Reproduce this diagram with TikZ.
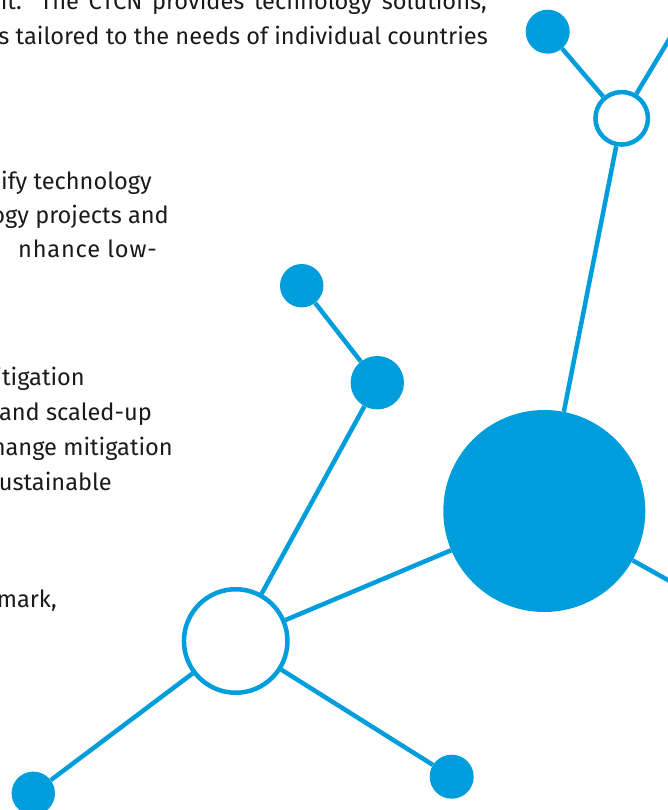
\documentclass[tikz,border=0pt]{standalone}
\usepackage{fontspec}
\setmainfont{Fira Sans}
\usetikzlibrary{backgrounds}
\definecolor{ctcn}{HTML}{009DDC}
\definecolor{txt}{HTML}{1A1A1A}
\begin{document}
\begin{tikzpicture}[x=1pt,y=-1pt,
  dotnode/.style={circle,fill=ctcn,draw=none,inner sep=0pt},
  ringnode/.style={circle,fill=white,draw=ctcn,line width=4.5pt,inner sep=0pt},
  link/.style={draw=ctcn,line width=4.5pt},
  txtline/.style={anchor=base east,inner sep=0pt,text=txt,font=\fontsize{23.6}{30}\selectfont}]
\useasboundingbox (0,0) rectangle (667,810);
\clip (0,0) rectangle (667,810);
% text
\node[txtline] (t1) at (487,10) {\makebox[486pt][s]{it. The CTCN provides technology solutions,}};
\node[txtline] (t2) at (488,45) {s tailored to the needs of individual countries};
\node[txtline] (t3) at (152,190) {ify technology};
\node[txtline] (t4) at (169,223) {ogy projects and};
\node[txtline] (t5) at (157,257) {\addfontfeature{LetterSpace=3.5}nhance low-};
\node[txtline] (t6) at (85,385) {itigation};
\node[txtline] (t7) at (152,420) {and scaled-up};
\node[txtline] (t8) at (173,455) {hange mitigation};
\node[txtline] (t9) at (112,490) {ustainable};
\node[txtline] (t10) at (57,607) {mark,};
% nodes
\node[dotnode,minimum size=44pt] (s1) at (547.7,31.7) {};
\node[ringnode,minimum size=52.5pt] (r1) at (621.7,118.3) {};
\node[dotnode,minimum size=202pt] (big) at (544.3,511) {};
\node[ringnode,minimum size=103.5pt] (r2) at (235.7,641) {};
\node[dotnode,minimum size=53.4pt] (m1) at (377.3,382.7) {};
\node[dotnode,minimum size=43.4pt] (s2) at (301.7,285.7) {};
\node[dotnode,minimum size=43.4pt] (s3) at (33.3,793.3) {};
\node[dotnode,minimum size=44pt] (s4) at (451.7,776.7) {};
\coordinate (tr) at (700,-12);
\coordinate (br) at (700,598);
% connectors
\begin{scope}[on background layer]
\draw[link] (s1) -- (r1);
\draw[link] (r1) -- (tr);
\draw[link] (r1) -- (big);
\draw[link] (big) -- (br);
\draw[link] (big) -- (r2);
\draw[link] (r2) -- (m1);
\draw[link] (m1) -- (s2);
\draw[link] (r2) -- (s3);
\draw[link] (r2) -- (s4);
\end{scope}
\end{tikzpicture}
\end{document}
